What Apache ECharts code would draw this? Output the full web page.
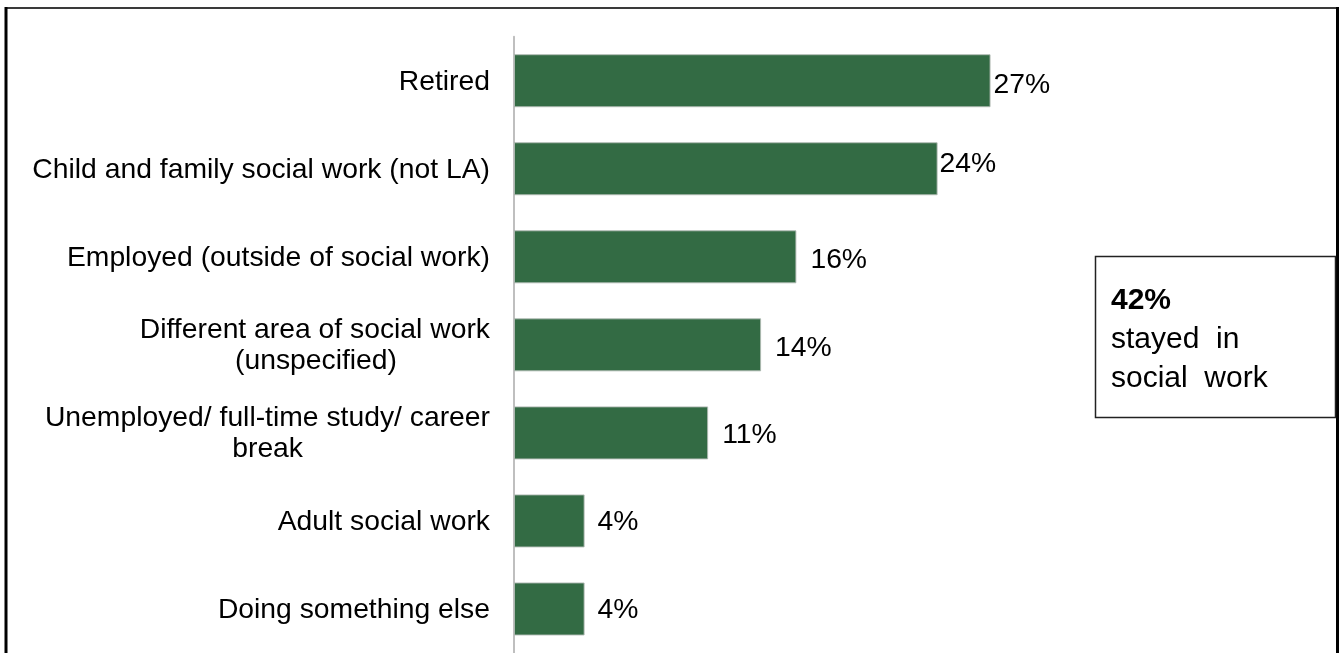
<!DOCTYPE html>
<html>
<head>
<meta charset="utf-8">
<title>Destinations of leavers</title>
<script src="https://cdn.jsdelivr.net/npm/echarts@6/dist/echarts.min.js"></script>
<style>
  html, body { margin: 0; padding: 0; background: #fff; }
  #chart { width: 1342px; height: 653px; }
</style>
</head>
<body>
<div id="chart"></div>
<script>
// Where leavers went next (share of leavers, %)
const categories = [
  'Retired',
  'Child and family social work (not LA)',
  'Employed (outside of social work)',
  'Different area of social work\n(unspecified)',
  'Unemployed/ full-time study/ career\nbreak',
  'Adult social work',
  'Doing something else'
];
const shares = [27, 24, 16, 14, 11, 4, 4];
const stayedShare = 42;
const stayedText = ['stayed  in', 'social  work'];

// Data labels sit at slightly different gaps from the bar ends
const labelGap = [3, 2, 14, 14, 14, 13, 13];
const labelShift = [4.5, -4.5, 3, 3, 2.5, 1.5, 1.5];

// Second lines of wrapped category names are centred under the first line
const secondLineStyle = { 3: 'u', 4: 'b' };

const FONT = '"Liberation Sans", Arial, sans-serif';
const FS = 28.3;
const chart = echarts.init(document.getElementById('chart'));

chart.setOption({
  animation: false,
  backgroundColor: '#ffffff',
  textStyle: { fontFamily: FONT },
  grid: { left: 514, right: 122, top: 36.7, bottom: -3.9, containLabel: false },
  xAxis: { type: 'value', min: 0, max: 40, show: false },
  yAxis: {
    type: 'category',
    inverse: true,
    data: categories,
    axisTick: { show: false },
    axisLine: { show: true, lineStyle: { color: '#BFBFBF', width: 2 } },
    axisLabel: {
      margin: 24,
      color: '#000',
      fontSize: FS,
      fontFamily: FONT,
      formatter: function (value, idx) {
        const parts = value.split('\n');
        if (parts.length === 1) return '{m|' + value + '}';
        return '{t|' + parts[0] + '}\n{' + secondLineStyle[idx] + '|' + parts[1] + '}';
      },
      rich: {
        m: { fontSize: FS, color: '#000', fontFamily: FONT, padding: [3, 0, 0, 0] },
        t: { fontSize: FS, color: '#000', fontFamily: FONT, lineHeight: 33, padding: [3, 0, 0, 0] },
        u: { fontSize: FS, color: '#000', fontFamily: FONT, lineHeight: 33, padding: [0, 93, 0, 0] },
        b: { fontSize: FS, color: '#000', fontFamily: FONT, lineHeight: 33, padding: [0, 187, 0, 0] }
      }
    }
  },
  series: [{
    type: 'bar',
    barWidth: 53,
    itemStyle: { color: '#336B44', borderColor: 'rgba(175,185,178,0.9)', borderWidth: 1 },
    data: shares.map(function (v, i) {
      return {
        value: v,
        label: { distance: labelGap[i], offset: [0, labelShift[i]] }
      };
    }),
    label: {
      show: true,
      position: 'right',
      color: '#000',
      fontSize: FS,
      fontFamily: FONT,
      formatter: '{c}%'
    }
  }],
  graphic: [
    // outer frame
    { type: 'line', shape: { x1: 6, y1: 8, x2: 1337.5, y2: 8 }, style: { stroke: '#3a3a3a', lineWidth: 2 } },
    { type: 'line', shape: { x1: 6, y1: 7, x2: 6, y2: 660 }, style: { stroke: '#000', lineWidth: 3 } },
    { type: 'line', shape: { x1: 1337.5, y1: 7, x2: 1337.5, y2: 660 }, style: { stroke: '#000', lineWidth: 3 } },
    // callout box
    {
      type: 'rect',
      shape: { x: 1095.5, y: 256.5, width: 240, height: 161 },
      style: { fill: '#fff', stroke: '#222', lineWidth: 1.5 }
    },
    {
      type: 'text',
      left: 1111, top: 286,
      style: {
        text: '{p|' + stayedShare + '%}\n{s|' + stayedText[0] + '}\n{s|' + stayedText[1] + '}',
        fontFamily: FONT,
        rich: {
          p: { fontSize: 30, fontWeight: 'bold', fill: '#000', lineHeight: 39, fontFamily: FONT },
          s: { fontSize: 30, fill: '#000', lineHeight: 39, fontFamily: FONT }
        }
      }
    }
  ]
});
</script>
</body>
</html>
